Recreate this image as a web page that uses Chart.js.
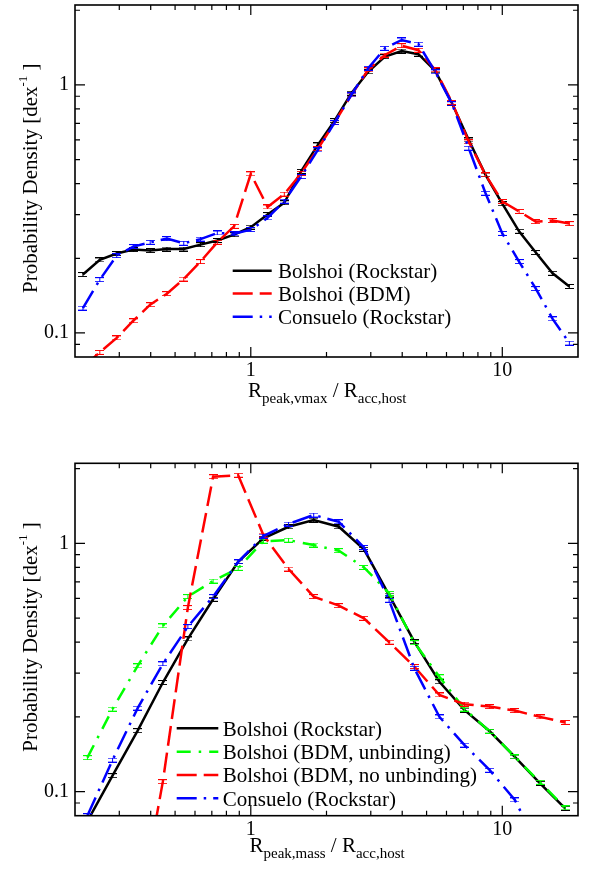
<!DOCTYPE html>
<html>
<head>
<meta charset="utf-8">
<script src="https://cdn.jsdelivr.net/npm/chart.js@4.4.1/dist/chart.umd.min.js"></script>
<style>
html,body{margin:0;padding:0;background:#fff;}
body{width:591px;height:869px;position:relative;overflow:hidden;}
canvas{position:absolute;left:0;}
#c1{top:0;}
#c2{top:440px;}
</style>
</head>
<body>
<canvas id="c1" width="591" height="430"></canvas>
<canvas id="c2" width="591" height="429"></canvas>
<script>
// ---------------- DATA ----------------
// Top panel: bin centres of R_peak,vmax / R_acc,host
const xTop = [0.215, 0.251, 0.293, 0.341, 0.398, 0.464, 0.541, 0.631, 0.736, 0.858,
              1.0, 1.166, 1.359, 1.585, 1.848, 2.154, 2.512, 2.929, 3.415, 3.981,
              4.642, 5.412, 6.310, 7.356, 8.577, 10.0, 11.66, 13.59, 15.85, 18.48];
const topRockstar = [0.172, 0.197, 0.209, 0.217, 0.215, 0.218, 0.218, 0.227, 0.236, 0.249,
                     0.267, 0.300, 0.335, 0.448, 0.573, 0.718, 0.926, 1.13, 1.30, 1.37,
                     1.33, 1.14, 0.844, 0.600, 0.434, 0.332, 0.257, 0.211, 0.174, 0.154];
const topBDM = [0.073, 0.0835, 0.0955, 0.112, 0.130, 0.144, 0.165, 0.194, 0.232, 0.269,
                0.438, 0.322, 0.363, 0.440, 0.553, 0.705, 0.911, 1.15, 1.32, 1.44,
                1.38, 1.15, 0.850, 0.590, 0.434, 0.339, 0.309, 0.281, 0.284, 0.276];
const topConsuelo = [0.126, 0.164, 0.205, 0.223, 0.232, 0.240, 0.230, 0.239, 0.253, 0.251,
                     0.261, 0.291, 0.340, 0.427, 0.547, 0.705, 0.911, 1.167, 1.405, 1.518,
                     1.46, 1.13, 0.840, 0.556, 0.366, 0.252, 0.194, 0.151, 0.114, 0.091];

// Bottom panel: bin centres of R_peak,mass / R_acc,host
const xBot = [0.224, 0.282, 0.355, 0.447, 0.562, 0.708, 0.891, 1.122, 1.413, 1.778,
              2.239, 2.818, 3.548, 4.467, 5.623, 7.079, 8.913, 11.22, 14.13, 17.78];
const botRockstar = [0.076, 0.116, 0.176, 0.275, 0.412, 0.595, 0.843, 1.047, 1.166, 1.24,
                     1.166, 0.946, 0.619, 0.402, 0.277, 0.213, 0.175, 0.138, 0.108, 0.0857];
const botBDMUnbinding = [0.137, 0.215, 0.321, 0.465, 0.610, 0.705, 0.793, 1.02, 1.03, 0.984,
                         0.934, 0.800, 0.629, 0.398, 0.290, 0.215, 0.175, 0.138, 0.109, 0.086];
const botBDMNoUnbinding = [0.005, 0.012, 0.030, 0.1097, 0.551, 1.854, 1.88, 1.08, 0.788, 0.610,
                           0.561, 0.499, 0.400, 0.319, 0.245, 0.225, 0.220, 0.212, 0.200, 0.190];
const botConsuelo = [0.080, 0.134, 0.217, 0.327, 0.462, 0.610, 0.843, 1.07, 1.196, 1.30,
                     1.22, 0.963, 0.590, 0.314, 0.200, 0.154, 0.122, 0.0926, 0.058, 0.040];

// Axis ticks
const xTickVals = [0.2, 0.3, 0.4, 0.5, 0.6, 0.7, 0.8, 0.9, 1, 2, 3, 4, 5, 6, 7, 8, 9, 10, 20];
const xTickLabelVals = [1, 10];
const xTickLabels = ['1', '10'];
const yTickVals = [0.08, 0.09, 0.1, 0.2, 0.3, 0.4, 0.5, 0.6, 0.7, 0.8, 0.9, 1, 2];
const yTickLabelVals = [0.1, 1];
const yTickLabels = ['0.1', '1'];
const xRange = [0.2, 20];
const yRange = [0.08, 2.1];

const topLabels = ['Bolshoi (Rockstar)', 'Bolshoi (BDM)', 'Consuelo (Rockstar)'];
const botLabels = ['Bolshoi (Rockstar)', 'Bolshoi (BDM, unbinding)', 'Bolshoi (BDM, no unbinding)', 'Consuelo (Rockstar)'];

// ---------------- STYLE ----------------
const FONT = '"Liberation Serif", "Times New Roman", Times, serif';
const STY = {
  rock: {color: '#000000', dash: [], order: 4},
  unb:  {color: '#00ff00', dash: [14, 8, 2.5, 8], order: 3},
  bdm:  {color: '#ff0000', dash: [20, 7], order: 2},
  cons: {color: '#0000ff', dash: [20, 7, 2.5, 7], order: 1}
};

function errGlyph(color) {
  const c = document.createElement('canvas');
  c.width = 9; c.height = 5;
  const g = c.getContext('2d');
  g.strokeStyle = color; g.lineWidth = 1;
  g.beginPath();
  g.moveTo(0, 0.5); g.lineTo(9, 0.5);
  g.moveTo(0, 4.5); g.lineTo(9, 4.5);
  g.moveTo(4.5, 0); g.lineTo(4.5, 5);
  g.stroke();
  return c;
}

function ds(label, xs, ys, st) {
  const s = STY[st];
  return {
    label,
    data: xs.map((x, i) => ({x, y: ys[i]})),
    borderColor: s.color,
    backgroundColor: s.color,
    borderWidth: 2.5,
    borderDash: s.dash,
    borderCapStyle: 'butt',
    tension: 0,
    fill: false,
    pointStyle: errGlyph(s.color),
    pointRadius: 4,
    order: s.order
  };
}

function drawRich(ctx, segs, x, y) {
  let cx = x;
  for (const s of segs) {
    ctx.font = s.size + 'px ' + FONT;
    ctx.fillText(s.t, cx, y + (s.dy || 0));
    cx += ctx.measureText(s.t).width;
  }
}

const framePlugin = {
  id: 'frame',
  afterDraw(chart, args, o) {
    const {ctx, chartArea: a, scales} = chart;
    ctx.save();
    ctx.strokeStyle = '#000';
    ctx.fillStyle = '#000';
    ctx.lineWidth = 1.6;
    ctx.strokeRect(a.left, a.top, a.right - a.left, a.bottom - a.top);
    const isMajor = v => Math.abs(Math.log10(v) - Math.round(Math.log10(v))) < 1e-6;
    ctx.lineWidth = 1.2;
    ctx.beginPath();
    for (const t of scales.x.ticks) {
      const p = scales.x.getPixelForValue(t.value);
      if (p <= a.left + 1 || p >= a.right - 1) continue;
      const L = isMajor(t.value) ? 10 : 5;
      ctx.moveTo(p, a.bottom); ctx.lineTo(p, a.bottom - L);
      ctx.moveTo(p, a.top); ctx.lineTo(p, a.top + L);
    }
    for (const t of scales.y.ticks) {
      const p = scales.y.getPixelForValue(t.value);
      if (p <= a.top + 1 || p >= a.bottom - 1) continue;
      const L = isMajor(t.value) ? 10 : 5;
      ctx.moveTo(a.left, p); ctx.lineTo(a.left + L, p);
      ctx.moveTo(a.right, p); ctx.lineTo(a.right - L, p);
    }
    ctx.stroke();

    // axis titles
    ctx.textBaseline = 'alphabetic';
    ctx.textAlign = 'left';
    drawRich(ctx, o.xTitle, o.xTitleX, o.xTitleY);
    ctx.save();
    ctx.translate(o.yTitleX, o.yTitleY);
    ctx.rotate(-Math.PI / 2);
    drawRich(ctx, o.yTitle, 0, 0);
    ctx.restore();

    // legend
    const dsets = chart.data.datasets;
    o.legendRows.forEach((ry, i) => {
      const d = dsets[i];
      ctx.save();
      ctx.strokeStyle = d.borderColor;
      ctx.lineWidth = d.borderWidth;
      ctx.setLineDash(d.borderDash);
      ctx.beginPath();
      ctx.moveTo(o.legendX1, ry);
      ctx.lineTo(o.legendX2, ry);
      ctx.stroke();
      ctx.restore();
      ctx.font = '21px ' + FONT;
      ctx.fillStyle = '#000';
      ctx.fillText(d.label, o.legendTextX, ry + 7.3);
    });
    ctx.restore();
  }
};

function labelFor(vals, labels) {
  return v => {
    const i = vals.findIndex(t => Math.abs(t - v) < 1e-9);
    return i >= 0 ? labels[i] : '';
  };
}

function makeChart(id, datasets, cfg) {
  return new Chart(document.getElementById(id), {
    type: 'line',
    data: {datasets},
    plugins: [framePlugin],
    options: {
      responsive: false,
      animation: false,
      devicePixelRatio: 1,
      layout: {autoPadding: false, padding: {top: cfg.padTop, right: 13, left: 0, bottom: 0}},
      plugins: {
        legend: {display: false},
        tooltip: {enabled: false},
        frame: cfg.frame
      },
      scales: {
        x: {
          type: 'logarithmic', position: 'bottom', min: xRange[0], max: xRange[1],
          afterBuildTicks: s => { s.ticks = xTickVals.map(v => ({value: v, major: false})); },
          afterFit: s => { s.height = cfg.xAxisH; s.paddingLeft = 0; s.paddingRight = 0; s.paddingTop = 0; s.paddingBottom = 0; },
          grid: {display: false, drawTicks: false},
          border: {display: false},
          ticks: {autoSkip: false, maxRotation: 0, minRotation: 0, padding: 2, color: '#000',
                  font: {family: FONT, size: 20}, callback: labelFor(xTickLabelVals, xTickLabels)}
        },
        y: {
          type: 'logarithmic', position: 'left', min: yRange[0], max: yRange[1],
          afterBuildTicks: s => { s.ticks = yTickVals.map(v => ({value: v, major: false})); },
          afterFit: s => { s.width = 75; s.paddingLeft = 0; s.paddingRight = 0; s.paddingTop = 0; s.paddingBottom = 0; },
          grid: {display: false, drawTicks: false},
          border: {display: false},
          ticks: {autoSkip: false, padding: 6, color: '#000',
                  font: {family: FONT, size: 20}, callback: labelFor(yTickLabelVals, yTickLabels)}
        }
      }
    }
  });
}

const yTitleSegs = [{t: 'Probability Density [dex', size: 21}, {t: '-1', size: 13, dy: -10}, {t: ' ]', size: 21}];

makeChart('c1', [
  ds(topLabels[0], xTop, topRockstar, 'rock'),
  ds(topLabels[1], xTop, topBDM, 'bdm'),
  ds(topLabels[2], xTop, topConsuelo, 'cons')
], {
  padTop: 5, xAxisH: 73,
  frame: {
    xTitle: [{t: 'R', size: 21}, {t: 'peak,vmax', size: 15, dy: 6}, {t: ' / R', size: 21}, {t: 'acc,host', size: 15, dy: 6}],
    xTitleX: 248, xTitleY: 397,
    yTitle: yTitleSegs, yTitleX: 37, yTitleY: 293,
    legendRows: [270.7, 293.5, 316.7], legendX1: 232.7, legendX2: 271.7, legendTextX: 278
  }
});

makeChart('c2', [
  ds(botLabels[0], xBot, botRockstar, 'rock'),
  ds(botLabels[1], xBot, botBDMUnbinding, 'unb'),
  ds(botLabels[2], xBot, botBDMNoUnbinding, 'bdm'),
  ds(botLabels[3], xBot, botConsuelo, 'cons')
], {
  padTop: 23.3, xAxisH: 53.3,
  frame: {
    xTitle: [{t: 'R', size: 21}, {t: 'peak,mass', size: 15, dy: 6}, {t: ' / R', size: 21}, {t: 'acc,host', size: 15, dy: 6}],
    xTitleX: 249.5, xTitleY: 412,
    yTitle: yTitleSegs, yTitleX: 37, yTitleY: 311.7,
    legendRows: [288.3, 311.7, 335, 358.3], legendX1: 176.7, legendX2: 218.3, legendTextX: 222.7
  }
});
</script>
</body>
</html>
